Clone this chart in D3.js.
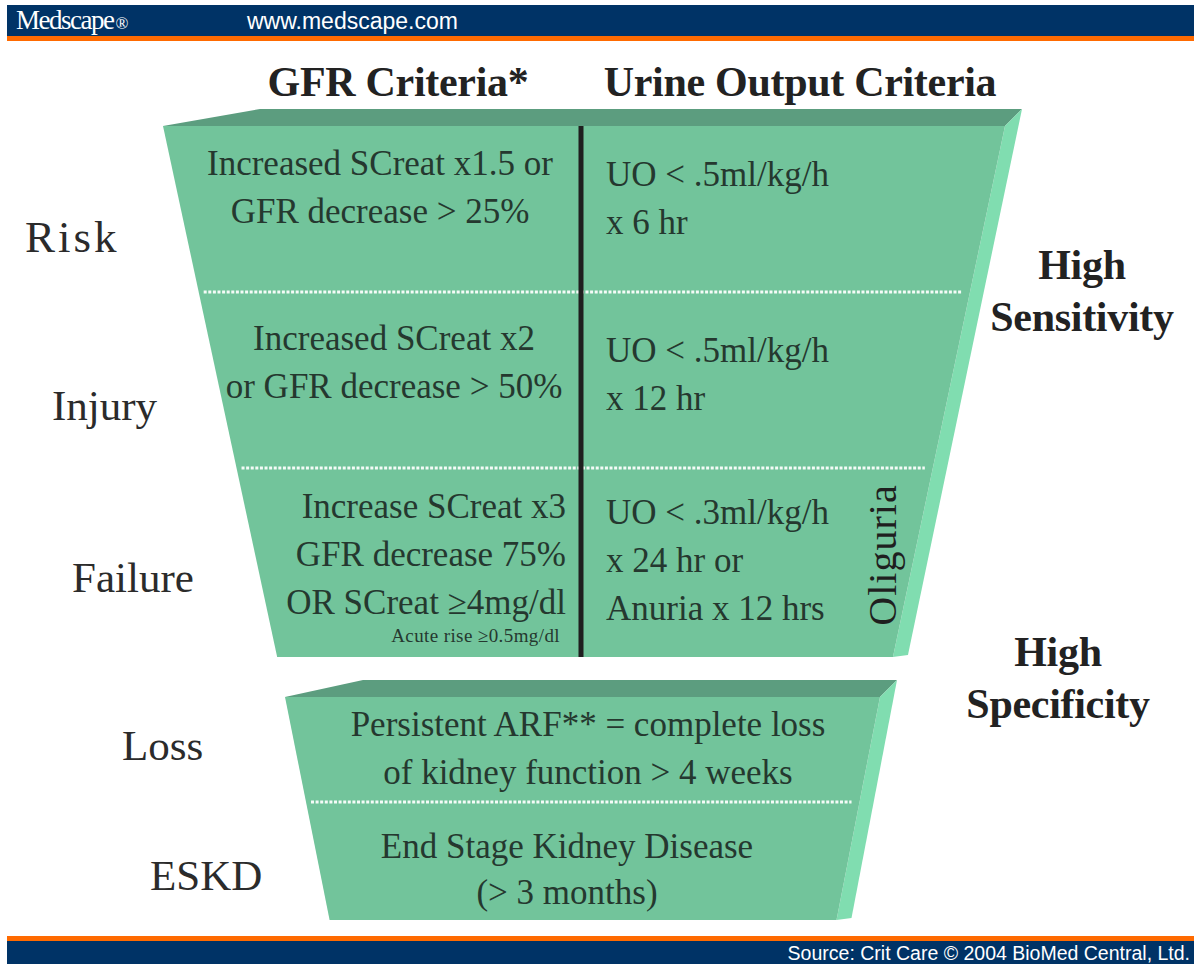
<!DOCTYPE html>
<html>
<head>
<meta charset="utf-8">
<script src="https://cdn.jsdelivr.net/npm/d3@7"></script>
<style>
  body { margin: 0; background: #fff; }
  svg { display: block; }
</style>
</head>
<body>
<div id="chart"></div>
<script>
// RIFLE criteria funnel

var width = 1194,
    height = 964;

// stage labels down the left side
var stages = ["Risk", "Injury", "Failure", "Loss", "ESKD"];

// column headers
var columnTitles = ["GFR Criteria*", "Urine Output Criteria"];

// GFR criteria, one list of lines per upper stage
var gfrLines = [
  ["Increased SCreat x1.5 or", "GFR decrease > 25%"],
  ["Increased SCreat x2", "or GFR decrease > 50%"],
  ["Increase SCreat x3", "GFR decrease 75%", "OR SCreat \u22654mg/dl"]
];
var gfrNote = "Acute rise \u22650.5mg/dl";

// urine output criteria
var uoLines = [
  ["UO < .5ml/kg/h", "x 6 hr"],
  ["UO < .5ml/kg/h", "x 12 hr"],
  ["UO < .3ml/kg/h", "x 24 hr or", "Anuria x 12 hrs"]
];

// lower funnel (outcome stages)
var outcomeLines = [
  ["Persistent ARF** = complete loss", "of kidney function > 4 weeks"],
  ["End Stage Kidney Disease", "(> 3 months)"]
];

var sideLabels = [["High", "Sensitivity"], ["High", "Specificity"]];
var sourceText = "Source: Crit Care \u00a9 2004 BioMed Central, Ltd.";

var navy = "#003366", orange = "#ff6a00";
var front = "#72c49b", topFace = "#5c9d7f", side = "#80ddb0";
var ink = "#25382f";
var serif = "'Liberation Serif', 'Times New Roman', serif";

var svg = d3.select("#chart").append("svg")
    .attr("width", width)
    .attr("height", height);

// header bar
svg.append("rect").attr("x", 7).attr("y", 5).attr("width", width - 7).attr("height", 31).attr("fill", navy);
svg.append("rect").attr("x", 7).attr("y", 36).attr("width", width - 7).attr("height", 5).attr("fill", orange);
var brand = svg.append("text").attr("x", 16).attr("y", 29)
    .style("font-family", serif).style("font-size", "27px").attr("fill", "#fff")
    .attr("letter-spacing", -1.5);
brand.append("tspan").text("Medscape");
brand.append("tspan").style("font-size", "17px").attr("dx", 2).attr("letter-spacing", 0).text("\u00ae");
svg.append("text").attr("x", 247).attr("y", 29)
    .style("font-family", "'Liberation Sans', Arial, sans-serif").style("font-size", "23px").attr("fill", "#fff")
    .text("www.medscape.com");

// footer bar
svg.append("rect").attr("x", 7).attr("y", 936).attr("width", width - 7).attr("height", 5).attr("fill", orange);
svg.append("rect").attr("x", 7).attr("y", 941).attr("width", width - 7).attr("height", 23).attr("fill", navy);
svg.append("text").attr("x", 1190).attr("y", 960).attr("text-anchor", "end")
    .style("font-family", "'Liberation Sans', Arial, sans-serif")
    .style("font-size", "19.5px").attr("fill", "#fff")
    .text(sourceText);

// funnel geometry
var upper = { top: 126, bottom: 657, left0: 163, right0: 1005, slopeL: 0.215, slopeR: 0.211, depth: 17, back: 97 };
var lower = { top: 697, bottom: 920, left0: 285, right0: 880, slopeL: 0.2, slopeR: 0.195, depth: 17, back: 78 };

function leftX(f, y) { return f.left0 + (y - f.top) * f.slopeL; }
function rightX(f, y) { return f.right0 - (y - f.top) * f.slopeR; }

var line = d3.line();

function drawFunnel(f) {
  var g = svg.append("g");
  // top face
  g.append("path").attr("fill", topFace).attr("d", line([
    [f.left0, f.top], [f.left0 + f.back, f.top - f.depth],
    [f.right0 + f.depth, f.top - f.depth], [f.right0, f.top]
  ]) + "Z");
  // right side face
  g.append("path").attr("fill", side).attr("d", line([
    [f.right0, f.top], [f.right0 + f.depth, f.top - f.depth],
    [rightX(f, f.bottom) + f.depth - 2, f.bottom - 2], [rightX(f, f.bottom), f.bottom]
  ]) + "Z");
  // front face
  g.append("path").attr("fill", front).attr("d", line([
    [f.left0, f.top], [f.right0, f.top],
    [rightX(f, f.bottom), f.bottom], [leftX(f, f.bottom), f.bottom]
  ]) + "Z");
  return g;
}

var gu = drawFunnel(upper);
var gl = drawFunnel(lower);

// row bands inside each funnel
var upperRows = [126, 292, 468, 657];
var lowerRows = [697, 802, 920];

function dotted(g, f, y) {
  g.append("line")
    .attr("x1", leftX(f, y) + 5).attr("x2", rightX(f, y) - 8)
    .attr("y1", y).attr("y2", y)
    .attr("stroke", "#f4fbf7").attr("stroke-width", 3)
    .attr("stroke-dasharray", "3,1.6");
}
upperRows.slice(1, -1).forEach(function(y) { dotted(gu, upper, y); });
lowerRows.slice(1, -1).forEach(function(y) { dotted(gl, lower, y); });

// divider between the two criteria
gu.append("line").attr("x1", 581).attr("x2", 581).attr("y1", upper.top).attr("y2", upper.bottom)
  .attr("stroke", "#1f1f1f").attr("stroke-width", 5);

// column headers
var colX = d3.scaleOrdinal().domain(columnTitles).range([398, 800]);
svg.selectAll(".coltitle").data(columnTitles).enter().append("text")
    .attr("class", "coltitle")
    .attr("x", function(d) { return colX(d); }).attr("y", 96)
    .attr("text-anchor", "middle")
    .style("font-family", serif).style("font-size", "42px").style("font-weight", "bold")
    .attr("letter-spacing", -0.3)
    .attr("fill", "#222")
    .text(function(d) { return d; });

// left stage labels
var stageY = d3.scaleOrdinal().domain(stages).range([252, 420, 592, 760, 890]);
var stageX = d3.scaleOrdinal().domain(stages).range([25, 52, 72, 122, 150]);
svg.selectAll(".stage").data(stages).enter().append("text")
    .attr("class", "stage")
    .attr("x", function(d) { return stageX(d); })
    .attr("y", function(d) { return stageY(d); })
    .style("font-family", serif)
    .style("font-size", function(d) { return d === "Risk" ? "45px" : "43px"; })
    .attr("letter-spacing", function(d) { return d === "Risk" ? 3 : 0; })
    .attr("fill", "#2b2b2b")
    .text(function(d) { return d; });

var lineGap = 48;
function block(g, lines, x, y0, anchor, size, gap) {
  g.selectAll(null).data(lines).enter().append("text")
    .attr("x", x)
    .attr("y", function(d, i) { return y0 + i * (gap || lineGap); })
    .attr("text-anchor", anchor)
    .style("font-family", serif).style("font-size", size + "px")
    .attr("fill", ink)
    .text(function(d) { return d; });
}

// GFR column
block(gu, gfrLines[0], 380, 175, "middle", 35);
block(gu, gfrLines[1], 394, 350, "middle", 35);
block(gu, gfrLines[2], 566, 518, "end", 35);
gu.append("text").attr("x", 560).attr("y", 642).attr("text-anchor", "end")
  .style("font-family", serif).style("font-size", "19px").attr("letter-spacing", 0.4)
  .attr("fill", ink).text(gfrNote);

// urine output column
block(gu, uoLines[0], 606, 186, "start", 35);
block(gu, uoLines[1], 606, 362, "start", 35);
block(gu, uoLines[2], 606, 524, "start", 35);

// oliguria, rotated
gu.append("text")
  .attr("transform", "translate(896,555) rotate(-90)")
  .attr("text-anchor", "middle")
  .style("font-family", serif).style("font-size", "40px")
  .attr("letter-spacing", 1)
  .attr("fill", "#1f1f1f")
  .text("Oliguria");

// lower funnel text
block(gl, outcomeLines[0], 588, 736, "middle", 35);
block(gl, outcomeLines[1], 567, 858, "middle", 35, 46);

// sensitivity / specificity labels
var sideX = [1082, 1058], sideY = [279, 666];
sideLabels.forEach(function(pair, k) {
  svg.selectAll(null).data(pair).enter().append("text")
    .attr("x", sideX[k]).attr("y", function(d, i) { return sideY[k] + i * 52; })
    .attr("text-anchor", "middle")
    .style("font-family", serif).style("font-size", "42px").style("font-weight", "bold")
    .attr("letter-spacing", -0.3)
    .attr("fill", "#222")
    .text(function(d) { return d; });
});
</script>
</body>
</html>
